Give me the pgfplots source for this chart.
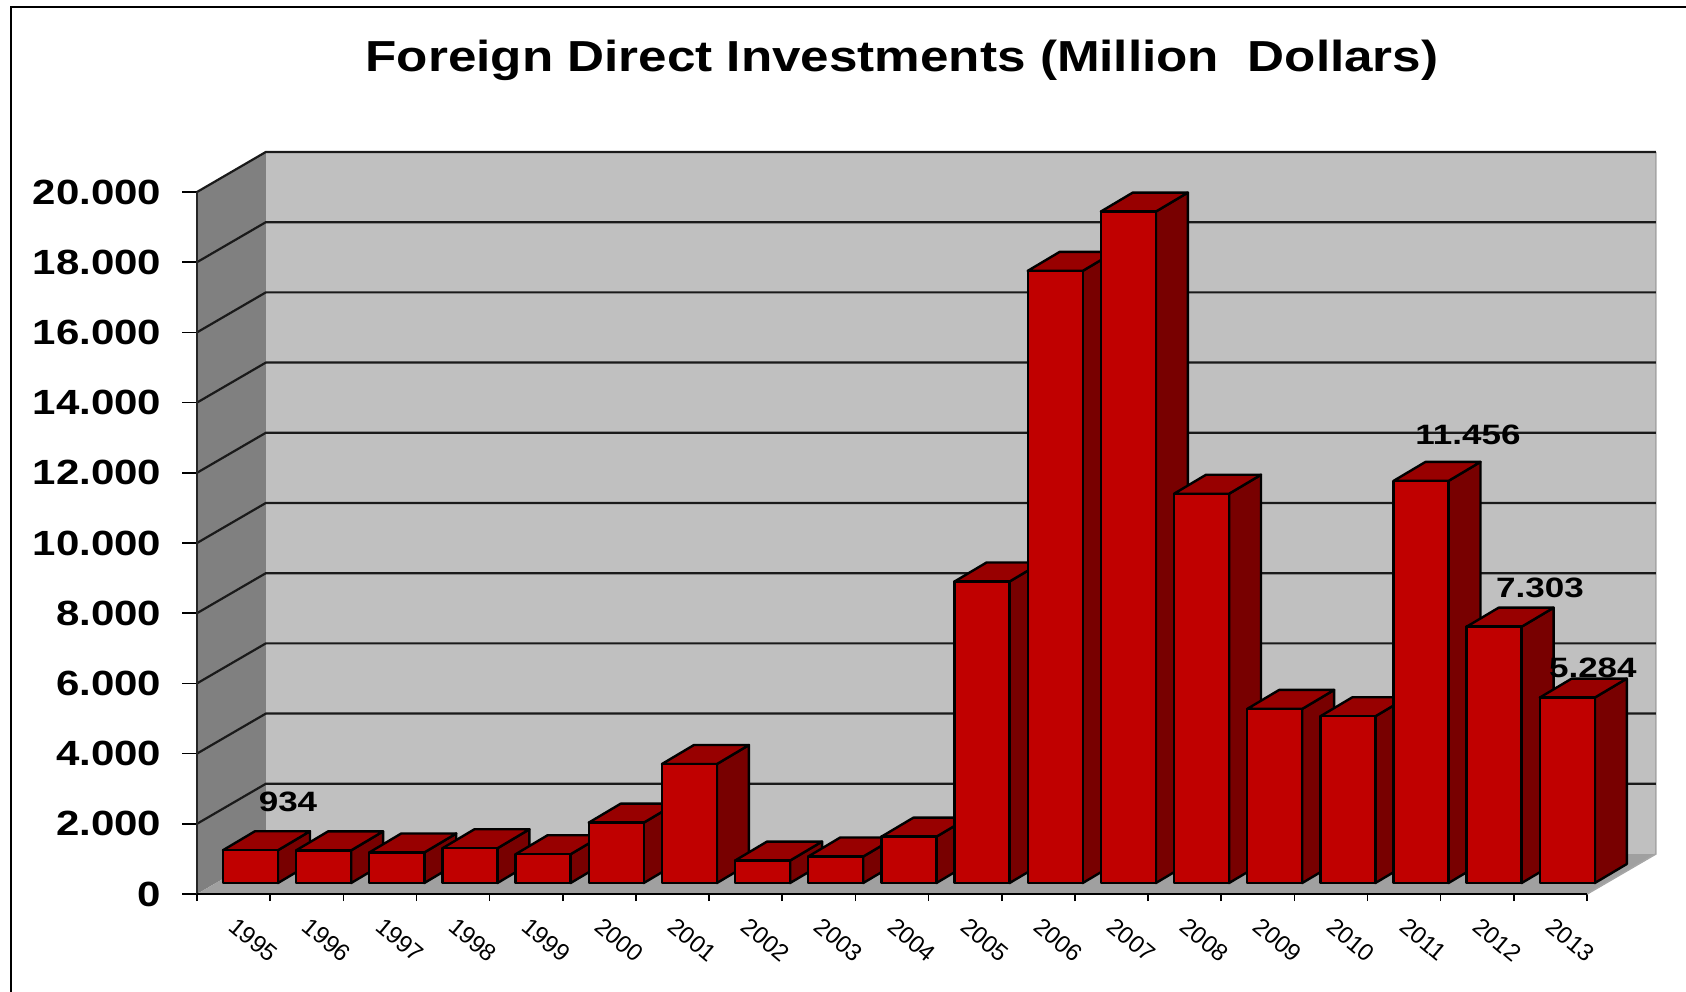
\documentclass[border=0pt]{standalone}
\usepackage{pgfplots}
\pgfplotsset{compat=1.18}
\usepackage{pgfplotstable}
\usepackage{fontspec}
\setmainfont{Liberation Sans}
\definecolor{barfront}{HTML}{C00000}
\definecolor{bartop}{HTML}{980000}
\definecolor{barside}{HTML}{780000}
\definecolor{backwall}{HTML}{C0C0C0}
\definecolor{sidewall}{HTML}{808080}
\definecolor{floorc}{HTML}{A0A0A0}
\definecolor{gridc}{HTML}{1A1A1A}

\pgfplotstableread{
idx year value
0 1995 934
1 1996 930
2 1997 870
3 1998 990
4 1999 820
5 2000 1720
6 2001 3390
7 2002 640
8 2003 755
9 2004 1320
10 2005 8590
11 2006 17440
12 2007 19130
13 2008 11090
14 2009 4960
15 2010 4750
16 2011 11456
17 2012 7303
18 2013 5284
}\fdidata

\begin{document}
\begin{tikzpicture}
\begin{axis}[
  at={(98.5pt,48.5pt)}, anchor=south west,
  scale only axis, width=695pt, height=351pt,
  xmin=-0.5, xmax=18.5, ymin=0, ymax=20000,
  clip=false,
  axis line style={draw=none},
  tick pos=left, tick align=outside,
  ytick={0,2000,4000,6000,8000,10000,12000,14000,16000,18000,20000},
  scaled y ticks=false,
  /pgf/number format/1000 sep={.},
  /pgf/number format/assume math mode=true,
  yticklabel style={font=\bfseries\fontsize{17.5}{19}\selectfont, xscale=1.2, anchor=east, inner sep=0pt, xshift=-8.5pt},
  major tick length=7.5pt, minor tick length=3.5pt,
  ytick style={black, line width=0.8pt},
  xtick={0,...,18},
  xticklabels from table={\fdidata}{year},
  major x tick style={draw=none},
  minor xtick={-0.5,0.5,...,18.5},
  minor x tick style={black, line width=0.8pt},
  xticklabel style={font=\fontsize{12}{13}\selectfont, rotate=-40, anchor=north west, inner sep=0pt, xshift=4pt, yshift=-1pt},
]
% walls and floor
\fill[backwall] (axis cs:-0.5,0) ++(34.4pt,20pt) rectangle ++(695pt,351pt);
\fill[sidewall] (axis cs:-0.5,0) -- (axis cs:-0.5,20000) -- ++(34.4pt,20pt) -- ++(0pt,-351pt) -- cycle;
\fill[floorc] (axis cs:-0.5,0) -- (axis cs:18.5,0) -- ++(34.4pt,20pt) -- ++(-695pt,0pt) -- cycle;
\draw[gray!70, line width=0.8pt] (axis cs:18.5,0) -- ++(34.4pt,20pt) -- ++(0pt,351pt);
\pgfplotsinvokeforeach{2000,4000,6000,8000,10000,12000,14000,16000,18000,20000}{
  \draw[gridc, line width=1.1pt] (axis cs:-0.5,#1) -- ++(34.4pt,20pt) -- ++(695pt,0pt);
}
\draw[gray!30!black, line width=1.4pt] (axis cs:-0.5,0) -- (axis cs:-0.5,20000);
\draw[black, line width=1pt] (axis cs:-0.5,0) -- (axis cs:18.5,0);
% bars
\pgfplotsinvokeforeach{0,...,18}{%
  \pgfplotstablegetelem{#1}{value}\of\fdidata
  \pgfkeys{/pgf/fpu=true,/pgf/fpu/output format=fixed}%
  \pgfmathsetmacro\yF{\pgfplotsretval+313}%
  \pgfmathsetmacro\yB{\pgfplotsretval+854}%
  \pgfmathsetmacro\xA{#1+0.231-0.376}%
  \pgfmathsetmacro\xB{#1+0.231+0.376}%
  \pgfmathsetmacro\xC{#1+0.231+0.376+0.437}%
  \pgfmathsetmacro\xD{#1+0.231-0.376+0.437}%
  \pgfkeys{/pgf/fpu=false}%
  \edef\barcmd{%
    \noexpand\addplot[fill=barside,draw=black,line width=1.2pt,line join=round] coordinates {(\xB,313) (\xC,854) (\xC,\yB) (\xB,\yF)} -- cycle;%
    \noexpand\addplot[fill=bartop,draw=black,line width=1.2pt,line join=round] coordinates {(\xA,\yF) (\xB,\yF) (\xC,\yB) (\xD,\yB)} -- cycle;%
    \noexpand\addplot[fill=barfront,draw=black,line width=1.2pt,line join=round] coordinates {(\xA,313) (\xB,313) (\xB,\yF) (\xA,\yF)} -- cycle;%
  }\barcmd
}
% data labels
\tikzset{dl/.style={font=\bfseries\fontsize{14}{16}\selectfont, xscale=1.25, inner sep=0pt}}
\node[dl] at (axis cs:0.744,2621) {934};
\node[dl] at (axis cs:16.873,13077) {11.456};
\node[dl] at (axis cs:17.857,8718) {7.303};
\node[dl] at (axis cs:18.58,6439) {5.284};
\end{axis}
% title
\node[font=\bfseries\fontsize{21.7}{24}\selectfont, xscale=1.18] at (451pt,465.3pt) {Foreign Direct Investments (Million~~Dollars)};
% outer frame
\draw[black, line width=1.2pt] (5.5pt,-2pt) -- (5.5pt,492pt) -- (845pt,492pt);
\pgfresetboundingbox
\useasboundingbox (0,0) rectangle (843pt,495.5pt);
\end{tikzpicture}
\end{document}
